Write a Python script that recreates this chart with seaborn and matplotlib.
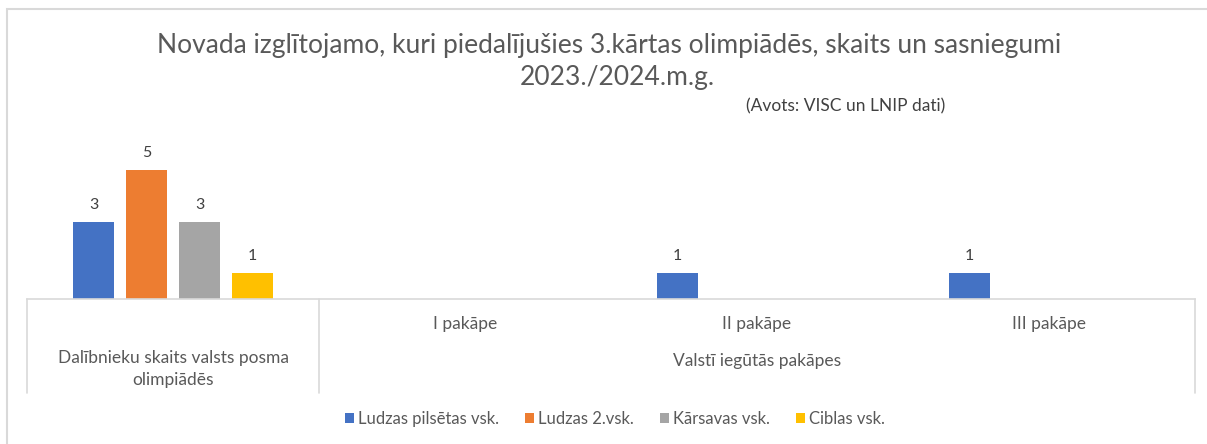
import matplotlib
matplotlib.use("Agg")
import matplotlib.pyplot as plt
import seaborn as sns
import pandas as pd
from matplotlib.patches import Rectangle, Patch

# ---------------- data ----------------
categories = ["Dalībnieku skaits valsts posma olimpiādēs", "I pakāpe", "II pakāpe", "III pakāpe"]
series_names = ["Ludzas pilsētas vsk.", "Ludzas 2.vsk.", "Kārsavas vsk.", "Ciblas vsk."]
ludzas_pilsetas = [3, 0, 1, 1]
ludzas_2 = [5, 0, 0, 0]
karsavas = [3, 0, 0, 0]
ciblas = [1, 0, 0, 0]
inner_labels = ["", "I pakāpe", "II pakāpe", "III pakāpe"]
outer_labels = ["Dalībnieku skaits valsts posma\nolimpiādēs", "Valstī iegūtās pakāpes"]
title_line1 = "Novada izglītojamo, kuri piedalījušies 3.kārtas olimpiādēs, skaits un sasniegumi"
title_line2 = "2023./2024.m.g."
subtitle = "(Avots: VISC un LNIP dati)"

colors = ["#4472C4", "#ED7D31", "#A5A5A5", "#FFC000"]

rows = []
for name, vals in zip(series_names, [ludzas_pilsetas, ludzas_2, karsavas, ciblas]):
    for cat, v in zip(categories, vals):
        rows.append({"category": cat, "series": name, "value": v})
df = pd.DataFrame(rows)

# ---------------- style ----------------
sns.set_theme(style="white")
plt.rcParams["font.family"] = ["Lato", "DejaVu Sans"]
TXT = "#595959"

W, H = 1207, 444
fig = plt.figure(figsize=(W / 100, H / 100), dpi=100)
fig.patch.set_facecolor("white")

# axes geometry in pixels
x0, x1 = 27, 1195
ybase, ytop = 299, 144
ax = fig.add_axes([x0 / W, (H - ybase) / H, (x1 - x0) / W, (ybase - ytop) / H])

sns.barplot(data=df, x="category", y="value", hue="series",
            order=categories, hue_order=series_names, palette=colors,
            width=0.726, gap=0.2266, linewidth=0, saturation=1,
            legend=False, ax=ax)

ax.set_xlim(-0.5, len(categories) - 0.5)
ax.set_ylim(0, 6)
ax.set_xlabel("")
ax.set_ylabel("")
ax.set_xticks([])
ax.set_yticks([])
for s in ["top", "left", "right"]:
    ax.spines[s].set_visible(False)
ax.spines["bottom"].set_color("#d9d9d9")
ax.spines["bottom"].set_linewidth(1.2)

for cont in ax.containers:
    labels = [f"{int(v)}" if v > 0 else "" for v in cont.datavalues]
    ax.bar_label(cont, labels=labels, padding=7, fontsize=11.5, color="#404040")

ah = ybase - ytop
def yf(py):
    return (ybase - py) / ah

tr = ax.get_xaxis_transform()
# separators of the multi-level category axis
for xs in [-0.5, 0.5, len(categories) - 0.5]:
    ax.plot([xs, xs], [0, yf(393)], transform=tr, color="#d9d9d9",
            lw=1.2, clip_on=False)

CAT_FS = 12.5
for i, lab in enumerate(inner_labels):
    if lab:
        ax.text(i, yf(324), lab, transform=tr, ha="center", va="center",
                fontsize=CAT_FS, color=TXT)
ax.text(0, yf(369), outer_labels[0], transform=tr, ha="center", va="center",
        fontsize=CAT_FS, color=TXT, linespacing=1.45)
ax.text(2, yf(361), outer_labels[1], transform=tr, ha="center", va="center",
        fontsize=CAT_FS, color=TXT)

# titles
fig.text(609 / W, 1 - 45 / H, title_line1, ha="center", va="center",
         fontsize=19, color=TXT)
fig.text(617 / W, 1 - 78 / H, title_line2, ha="center", va="center",
         fontsize=19, color=TXT)
fig.text(846 / W, 1 - 106 / H, subtitle, ha="center", va="center",
         fontsize=12.5, color="#404040")

# legend
handles = [Patch(facecolor=c, edgecolor="none", label=n) for c, n in zip(colors, series_names)]
fig.legend(handles=handles, loc="center", bbox_to_anchor=(615 / W, 1 - 419 / H),
           ncol=4, frameon=False, fontsize=12, handlelength=0.5, handleheight=0.5,
           handletextpad=0.25, columnspacing=1.6, labelcolor=TXT)

# chart-area border
fig.add_artist(Rectangle((7 / W, -0.1), 1.2, 1 - 9 / H + 0.1, transform=fig.transFigure,
                         fill=False, edgecolor="#d9d9d9", lw=1.5))

fig.savefig("out.png", dpi=100)
